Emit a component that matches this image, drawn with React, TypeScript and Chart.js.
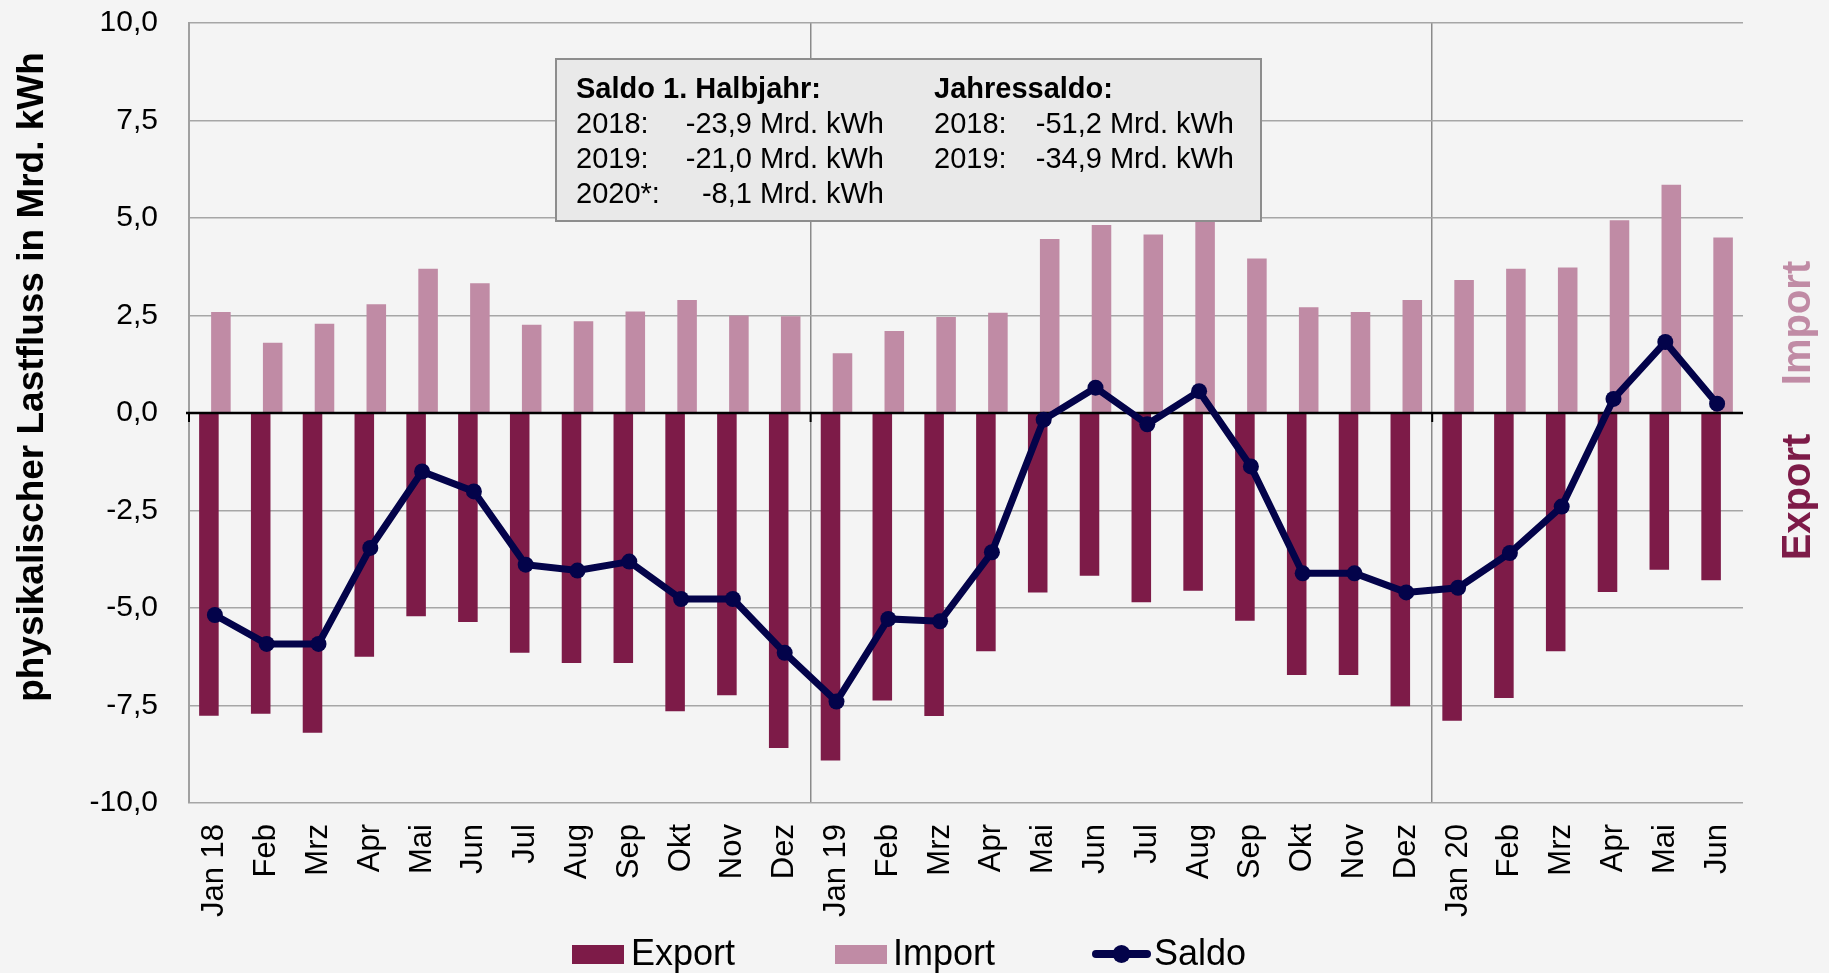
import React, { useEffect, useRef } from 'react';
import { Chart, registerables } from 'chart.js';

Chart.register(...registerables);

const FONT = '"Liberation Sans", Arial, Helvetica, sans-serif';

const monthLabels = [
  'Jan 18', 'Feb', 'Mrz', 'Apr', 'Mai', 'Jun', 'Jul', 'Aug', 'Sep', 'Okt', 'Nov', 'Dez',
  'Jan 19', 'Feb', 'Mrz', 'Apr', 'Mai', 'Jun', 'Jul', 'Aug', 'Sep', 'Okt', 'Nov', 'Dez',
  'Jan 20', 'Feb', 'Mrz', 'Apr', 'Mai', 'Jun',
];

const exportValues = [
  -7.76, -7.71, -8.2, -6.25, -5.21, -5.36, -6.15, -6.41, -6.41, -7.65, -7.24, -8.59,
  -8.91, -7.37, -7.77, -6.11, -4.6, -4.17, -4.85, -4.56, -5.33, -6.72, -6.72, -7.52,
  -7.89, -7.31, -6.11, -4.59, -4.02, -4.29,
];

const importValues = [
  2.59, 1.8, 2.29, 2.79, 3.7, 3.33, 2.26, 2.35, 2.6, 2.9, 2.5, 2.48,
  1.53, 2.1, 2.46, 2.57, 4.46, 4.82, 4.58, 5.1, 3.96, 2.71, 2.59, 2.9,
  3.41, 3.7, 3.73, 4.94, 5.85, 4.5,
];

const saldoValues = [
  -5.18, -5.92, -5.92, -3.46, -1.5, -2.01, -3.89, -4.04, -3.81, -4.77, -4.77, -6.15,
  -7.4, -5.28, -5.34, -3.57, -0.17, 0.65, -0.29, 0.56, -1.37, -4.11, -4.11, -4.6,
  -4.48, -3.59, -2.4, 0.36, 1.82, 0.24,
];

const yMin = -10;
const yMax = 10;
const yStep = 2.5;
const yearBoundaries = [0, 12, 24];

const yTitle = 'physikalischer Lastfluss in Mrd. kWh';
const halbjahrHeader = 'Saldo 1. Halbjahr:';
const halbjahrYears = ['2018:', '2019:', '2020*:'];
const halbjahrValues = ['-23,9 Mrd. kWh', '-21,0 Mrd. kWh', '-8,1 Mrd. kWh'];
const jahresHeader = 'Jahressaldo:';
const jahresYears = ['2018:', '2019:'];
const jahresValues = ['-51,2 Mrd. kWh', '-34,9 Mrd. kWh'];

const COL_EXPORT = '#7d1b48';
const COL_IMPORT = '#c08ba5';
const COL_SALDO = '#03034a';

const overlayPlugin = {
  id: 'overlay',
  beforeDatasetDraw(chart: any, args: any) {
    if (args.index !== 2) return;
    const { ctx, chartArea, scales } = chart;
    const y0 = scales.y.getPixelForValue(0);
    const xs = scales.x;
    ctx.save();
    ctx.strokeStyle = '#000';
    ctx.lineWidth = 2.5;
    ctx.beginPath();
    ctx.moveTo(chartArea.left - 3, y0);
    ctx.lineTo(chartArea.right, y0);
    ctx.stroke();
    ctx.lineWidth = 2;
    yearBoundaries.forEach((i) => {
      const b = i === 0 ? chartArea.left : (xs.getPixelForValue(i - 1) + xs.getPixelForValue(i)) / 2;
      ctx.beginPath();
      ctx.moveTo(b, y0);
      ctx.lineTo(b, y0 + 9);
      ctx.stroke();
    });
    ctx.restore();
  },
  afterDatasetsDraw(chart: any) {
    const { ctx } = chart;
    ctx.save();
    // info box
    ctx.fillStyle = '#e9e9e9';
    ctx.fillRect(556, 59, 705, 162);
    ctx.strokeStyle = '#8d8d8d';
    ctx.lineWidth = 2;
    ctx.strokeRect(556, 59, 705, 162);
    ctx.fillStyle = '#000';
    ctx.textBaseline = 'alphabetic';
    const base = [98, 133, 168, 203];
    ctx.font = `bold 29px ${FONT}`;
    ctx.textAlign = 'left';
    ctx.fillText(halbjahrHeader, 576, base[0]);
    ctx.fillText(jahresHeader, 934, base[0]);
    ctx.font = `29px ${FONT}`;
    halbjahrYears.forEach((t, i) => {
      ctx.textAlign = 'left';
      ctx.fillText(t, 576, base[i + 1]);
      ctx.textAlign = 'right';
      ctx.fillText(halbjahrValues[i], 884, base[i + 1]);
    });
    jahresYears.forEach((t, i) => {
      ctx.textAlign = 'left';
      ctx.fillText(t, 934, base[i + 1]);
      ctx.textAlign = 'right';
      ctx.fillText(jahresValues[i], 1234, base[i + 1]);
    });
    ctx.restore();
  },
  afterDraw(chart: any) {
    const { ctx } = chart;
    ctx.save();
    // y axis title
    ctx.fillStyle = '#000';
    ctx.font = `bold 37px ${FONT}`;
    ctx.textAlign = 'center';
    ctx.textBaseline = 'alphabetic';
    ctx.translate(43, 377);
    ctx.rotate(-Math.PI / 2);
    ctx.fillText(yTitle, 0, 0);
    ctx.restore();

    // right side labels
    ctx.save();
    ctx.font = `bold 40px ${FONT}`;
    ctx.textAlign = 'center';
    ctx.textBaseline = 'alphabetic';
    ctx.fillStyle = COL_IMPORT;
    ctx.translate(1810, 323);
    ctx.rotate(-Math.PI / 2);
    ctx.fillText('Import', 0, 0);
    ctx.restore();
    ctx.save();
    ctx.font = `bold 40px ${FONT}`;
    ctx.textAlign = 'center';
    ctx.textBaseline = 'alphabetic';
    ctx.fillStyle = COL_EXPORT;
    ctx.translate(1810, 497);
    ctx.rotate(-Math.PI / 2);
    ctx.fillText('Export', 0, 0);
    ctx.restore();

    // legend
    ctx.save();
    ctx.font = `36px ${FONT}`;
    ctx.textAlign = 'left';
    ctx.textBaseline = 'alphabetic';
    ctx.fillStyle = COL_EXPORT;
    ctx.fillRect(572, 945, 52, 19);
    ctx.fillStyle = '#000';
    ctx.fillText('Export', 631, 965);
    ctx.fillStyle = COL_IMPORT;
    ctx.fillRect(835, 945, 52, 19);
    ctx.fillStyle = '#000';
    ctx.fillText('Import', 893, 965);
    ctx.strokeStyle = COL_SALDO;
    ctx.lineWidth = 8;
    ctx.lineCap = 'round';
    ctx.beginPath();
    ctx.moveTo(1096, 954);
    ctx.lineTo(1147, 954);
    ctx.stroke();
    ctx.fillStyle = COL_SALDO;
    ctx.beginPath();
    ctx.arc(1121.5, 954, 9, 0, Math.PI * 2);
    ctx.fill();
    ctx.fillStyle = '#000';
    ctx.fillText('Saldo', 1154, 965);
    ctx.restore();
  },
};

export default function App() {
  const ref = useRef<HTMLCanvasElement>(null);

  useEffect(() => {
    if (!ref.current) return;
    Chart.defaults.font.family = FONT;
    const chart = new Chart(ref.current, {
      type: 'bar',
      data: {
        labels: monthLabels,
        datasets: [
          {
            type: 'bar',
            label: 'Export',
            data: exportValues,
            backgroundColor: COL_EXPORT,
            categoryPercentage: 0.463,
            barPercentage: 1.63,
            order: 1,
          },
          {
            type: 'bar',
            label: 'Import',
            data: importValues,
            backgroundColor: COL_IMPORT,
            categoryPercentage: 0.463,
            barPercentage: 1.63,
            order: 2,
          },
          {
            type: 'line',
            label: 'Saldo',
            data: saldoValues,
            borderColor: COL_SALDO,
            backgroundColor: COL_SALDO,
            borderWidth: 7,
            pointRadius: 8,
            pointBackgroundColor: COL_SALDO,
            pointBorderWidth: 0,
            tension: 0,
            fill: false,
            order: 0,
          } as any,
        ],
      },
      options: {
        responsive: false,
        animation: false,
        devicePixelRatio: 1,
        layout: { padding: { left: 0, right: 86, top: 23, bottom: 0 } },
        plugins: {
          legend: { display: false },
          tooltip: { enabled: false },
        },
        scales: {
          x: {
            type: 'category',
            offset: true,
            grid: {
              offset: true,
              drawTicks: false,
              color: (c: any) => (c.index === 12 || c.index === 24 ? '#8a8a8a' : 'rgba(0,0,0,0)'),
              lineWidth: 1.5,
            },
            border: { display: false },
            ticks: {
              autoSkip: false,
              maxRotation: 90,
              minRotation: 90,
              padding: 21,
              color: '#000',
              font: { size: 31, family: FONT },
            },
            afterFit: (s: any) => {
              s.height = 170;
              s.paddingLeft = 0;
              s.paddingRight = 0;
            },
          },
          y: {
            min: yMin,
            max: yMax,
            ticks: {
              stepSize: yStep,
              padding: 31,
              color: '#000',
              font: { size: 30, family: FONT },
              callback: (v: any) => Number(v).toFixed(1).replace('.', ','),
            },
            grid: {
              drawTicks: false,
              color: (c: any) => (c.tick && c.tick.value === 0 ? 'rgba(0,0,0,0)' : '#a6a6a6'),
              lineWidth: 1.5,
            },
            border: { display: true, color: '#a0a0a0', width: 2 },
            afterFit: (s: any) => {
              s.width = 189;
              s.paddingTop = 0;
              s.paddingBottom = 0;
            },
          },
        },
      } as any,
      plugins: [overlayPlugin],
    });
    return () => chart.destroy();
  }, []);

  return (
    <div
      style={{
        position: 'fixed',
        left: 0,
        top: 0,
        width: 1829,
        height: 973,
        background: '#f4f4f4',
      }}
    >
      <canvas ref={ref} width={1829} height={973} style={{ display: 'block', width: 1829, height: 973 }} />
    </div>
  );
}
